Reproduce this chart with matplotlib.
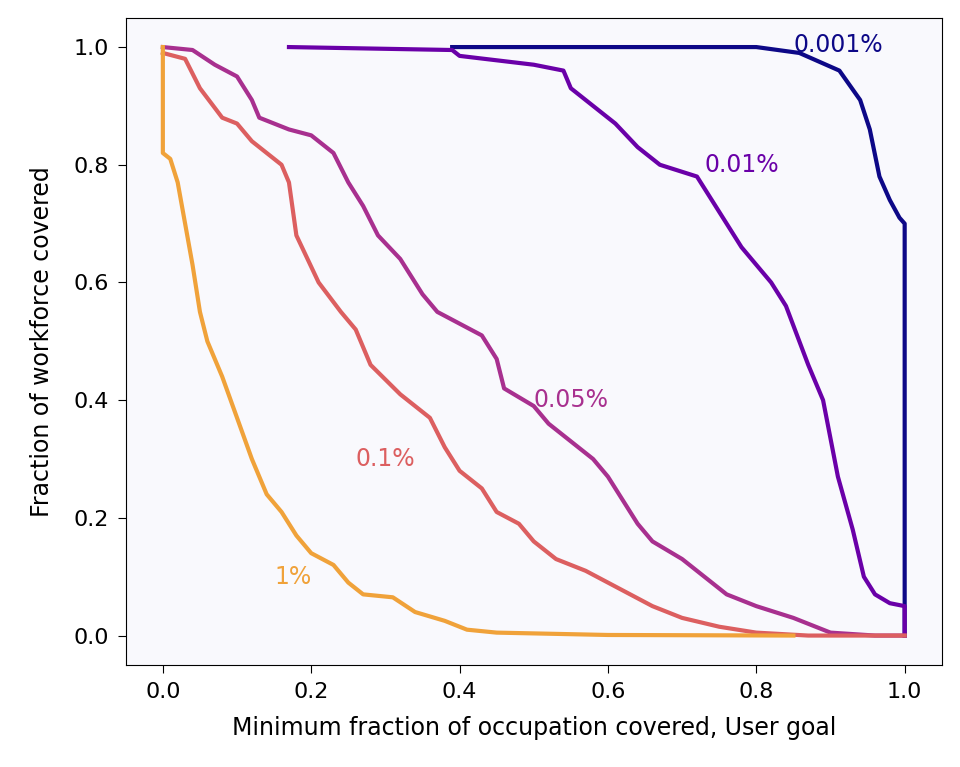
import numpy as np
import matplotlib.pyplot as plt

# curves: x = min fraction of occupation covered, y = fraction of workforce covered
x_0001 = [0.39, 0.80, 0.858, 0.912, 0.94, 0.953, 0.966, 0.98, 0.993, 1.0, 1.0]
y_0001 = [1.0, 1.0, 0.99, 0.96, 0.91, 0.86, 0.78, 0.74, 0.71, 0.70, 0.0]

x_001 = [0.17, 0.39, 0.40, 0.50, 0.54, 0.55, 0.58, 0.61, 0.64, 0.67, 0.72, 0.75, 0.78, 0.82, 0.84,
         0.87, 0.89, 0.91, 0.93, 0.945, 0.96, 0.98, 1.0, 1.0]
y_001 = [1.0, 0.995, 0.985, 0.97, 0.96, 0.93, 0.90, 0.87, 0.83, 0.80, 0.78, 0.72, 0.66, 0.60, 0.56,
         0.46, 0.40, 0.27, 0.18, 0.10, 0.07, 0.055, 0.05, 0.0]

x_005 = [0.0, 0.04, 0.07, 0.10, 0.12, 0.13, 0.17, 0.20, 0.23, 0.25, 0.27, 0.29, 0.32, 0.35, 0.37, 0.40,
         0.43, 0.45, 0.46, 0.50, 0.52, 0.55, 0.58, 0.60, 0.62, 0.64, 0.66, 0.70, 0.73, 0.76, 0.80,
         0.85, 0.90, 0.96, 1.0]
y_005 = [1.0, 0.995, 0.97, 0.95, 0.91, 0.88, 0.86, 0.85, 0.82, 0.77, 0.73, 0.68, 0.64, 0.58, 0.55, 0.53,
         0.51, 0.47, 0.42, 0.39, 0.36, 0.33, 0.30, 0.27, 0.23, 0.19, 0.16, 0.13, 0.10, 0.07, 0.05,
         0.03, 0.005, 0.0, 0.0]

x_01 = [0.0, 0.03, 0.05, 0.08, 0.10, 0.12, 0.16, 0.17, 0.18, 0.21, 0.24, 0.26, 0.28, 0.32, 0.36, 0.38,
        0.40, 0.43, 0.45, 0.48, 0.50, 0.53, 0.57, 0.60, 0.63, 0.66, 0.70, 0.75, 0.80, 0.87, 1.0]
y_01 = [0.99, 0.98, 0.93, 0.88, 0.87, 0.84, 0.80, 0.77, 0.68, 0.60, 0.55, 0.52, 0.46, 0.41, 0.37, 0.32,
        0.28, 0.25, 0.21, 0.19, 0.16, 0.13, 0.11, 0.09, 0.07, 0.05, 0.03, 0.015, 0.005, 0.0, 0.0]

x_1 = [0.0, 0.0, 0.01, 0.02, 0.03, 0.04, 0.05, 0.06, 0.08, 0.10, 0.12, 0.14, 0.16, 0.18, 0.20, 0.23,
       0.25, 0.27, 0.31, 0.34, 0.38, 0.41, 0.45, 0.60, 0.85]
y_1 = [1.0, 0.82, 0.81, 0.77, 0.70, 0.63, 0.55, 0.50, 0.44, 0.37, 0.30, 0.24, 0.21, 0.17, 0.14, 0.12,
       0.09, 0.07, 0.065, 0.04, 0.025, 0.01, 0.005, 0.001, 0.0]

labels = ['0.001%', '0.01%', '0.05%', '0.1%', '1%']
label_pos = [(0.85, 1.003), (0.73, 0.80), (0.50, 0.40), (0.26, 0.30), (0.15, 0.10)]
colors = ['#0d0887', '#6a00a8', '#a8308f', '#dc5f60', '#f0a23a']
curves = [(x_0001, y_0001), (x_001, y_001), (x_005, y_005), (x_01, y_01), (x_1, y_1)]

fig, ax = plt.subplots(figsize=(9.6, 7.67), dpi=100)
fig.patch.set_facecolor('white')
ax.set_facecolor('#f9f9fd')
for (xs, ys), c, lab, (lx, ly) in zip(curves, colors, labels, label_pos):
    ax.plot(xs, ys, color=c, linewidth=3)
    ax.text(lx, ly, lab, color=c, fontsize=17, va='center')

ax.set_xlim(-0.05, 1.05)
ax.set_ylim(-0.05, 1.05)
ax.set_xticks([0.0, 0.2, 0.4, 0.6, 0.8, 1.0])
ax.set_yticks([0.0, 0.2, 0.4, 0.6, 0.8, 1.0])
ax.tick_params(labelsize=16, length=6, pad=6)
ax.set_xlabel('Minimum fraction of occupation covered, User goal', fontsize=17, labelpad=10)
ax.set_ylabel('Fraction of workforce covered', fontsize=17, labelpad=14)
plt.subplots_adjust(left=0.131, right=0.981, top=0.977, bottom=0.133)
plt.savefig('out.png')
